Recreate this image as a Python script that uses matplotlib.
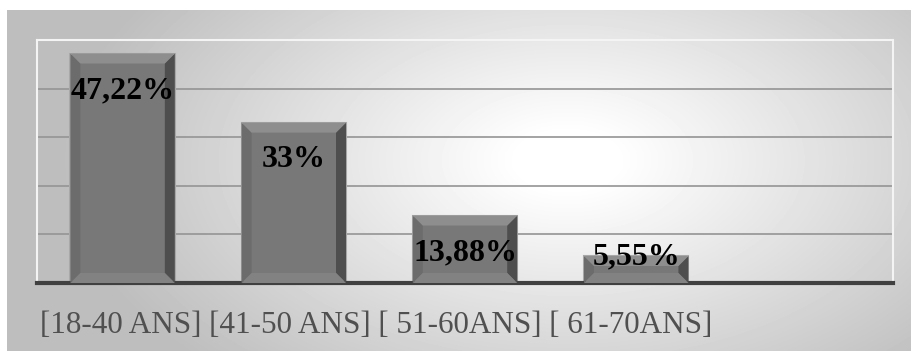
import numpy as np
import matplotlib.pyplot as plt
from matplotlib.patches import Polygon

# tranches d'age et pourcentages
tranches = ['[18-40 ANS]', '[41-50 ANS]', '[ 51-60ANS]', '[ 61-70ANS]']
valeurs = [47.22, 33, 13.88, 5.55]
etiquettes = ['47,22%', '33%', '13,88%', '5,55%']

W, H = 911, 351
fig = plt.figure(figsize=(W / 100, H / 100), dpi=100)

# fond gris avec degrade radial
bg = fig.add_axes([7 / W, 0, 1 - 7 / W, 1 - 10 / H])
bg.set_axis_off()
yy, xx = np.mgrid[0:341, 0:904]
d = np.sqrt(((xx - 560) / 560.0) ** 2 + ((yy - 150) / 320.0) ** 2)
g = np.clip(262 - 80 * d, 190, 255) / 255.0
bg.imshow(g, cmap='gray', vmin=0, vmax=1, aspect='auto', interpolation='bilinear')

ax = fig.add_axes([37 / W, (H - 283) / H, 856 / W, 243 / H])
ax.patch.set_alpha(0)
ax.set_xlim(-0.5, 4.5)
ax.set_ylim(0, 50)
for s in ['left', 'right', 'top']:
    ax.spines[s].set_color('#f4f4f4')
    ax.spines[s].set_linewidth(1.5)
ax.spines['bottom'].set_color('#404040')
ax.spines['bottom'].set_linewidth(3)
ax.set_xticks([])
ax.set_yticks([10, 20, 30, 40])
ax.tick_params(left=False, labelleft=False)
ax.grid(axis='y', color='#949494', linewidth=1.2)
ax.set_axisbelow(True)

larg = 0.61
bx = 10 * 5 / 856
by = 10 * 50 / 243
x = np.arange(len(valeurs))
bars = ax.bar(x, valeurs, width=larg, color='#787878', edgecolor='#a8a8a8',
              linewidth=1.5, zorder=2)

# biseau des barres
for b in bars:
    x0, x1 = b.get_x(), b.get_x() + b.get_width()
    y0, y1 = 0, b.get_height()
    faces = [
        ([(x0, y0), (x0 + bx, y0 + by), (x0 + bx, y1 - by), (x0, y1)], '#6c6c6c'),
        ([(x1, y0), (x1 - bx, y0 + by), (x1 - bx, y1 - by), (x1, y1)], '#4e4e4e'),
        ([(x0, y1), (x0 + bx, y1 - by), (x1 - bx, y1 - by), (x1, y1)], '#8e8e8e'),
        ([(x0, y0), (x0 + bx, y0 + by), (x1 - bx, y0 + by), (x1, y0)], '#828282'),
    ]
    for pts, c in faces:
        ax.add_patch(Polygon(pts, closed=True, facecolor=c, edgecolor='none', zorder=3))

for xi, v, t in zip(x, valeurs, etiquettes):
    ax.text(xi, max(v - 7.6, 5.4), t, ha='center', va='center',
            fontsize=23, fontweight='bold', family='Liberation Serif',
            color='black', zorder=5)

fig.text(40 / W, 1 - 333 / H, ' '.join(tranches), ha='left', va='baseline',
         fontsize=22.4, family='Liberation Serif', color='#505050')

fig.savefig('out.png', dpi=100)
